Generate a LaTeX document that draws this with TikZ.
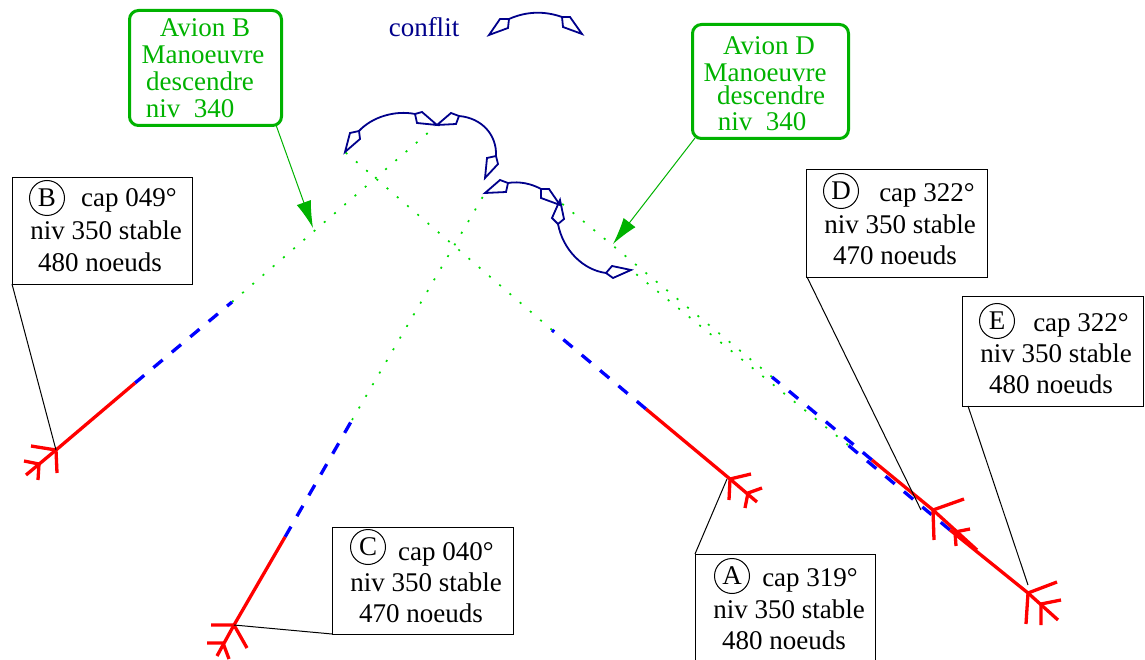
\documentclass[tikz,border=0pt]{standalone}
\usepackage{fontspec}
\setmainfont{Liberation Serif}
\usetikzlibrary{arrows.meta}
\definecolor{navyc}{RGB}{0,0,139}
\definecolor{greenc}{RGB}{0,178,0}
\definecolor{dotc}{RGB}{0,220,0}
\tikzset{
 x=1pt,y=-1pt,
 txt/.style={inner sep=0pt,font=\fontsize{27}{27}\selectfont,anchor=base},
 gtxt/.style={txt,text=greenc},
 infobox/.style={draw=black,line width=1pt,inner sep=0pt,anchor=north west},
 greenbox/.style={draw=greenc,line width=3pt,rounded corners=9pt,inner sep=0pt,anchor=north west},
 letter/.style={draw=black,circle,line width=1pt,inner sep=0pt,minimum size=35pt,font=\fontsize{27}{27}\selectfont},
 leader/.style={draw=black,line width=1pt},
 redline/.style={draw=red,line width=3.3pt},
 blueline/.style={draw=blue,line width=3.3pt,dash pattern=on 12pt off 12pt},
 dotline/.style={draw=dotc,line width=1.7pt,dash pattern=on 2pt off 11.5pt},
 confl/.style={draw=navyc,line width=1.8pt,line join=miter},
 garrow/.style={draw=greenc,line width=1pt,-{Latex[length=27pt,width=15pt]}},
}
\begin{document}
\begin{tikzpicture}
\useasboundingbox (0,0) rectangle (1145,660);
% ---- trajectories
\coordinate (bH) at (56,450);\coordinate (bR) at (135,383);\coordinate (bD) at (232,302);\coordinate (bE) at (437,125);
\coordinate (cH) at (234,625);\coordinate (cR) at (285,537);\coordinate (cD) at (352,420);\coordinate (cE) at (485,193);
\coordinate (aH) at (730,479);\coordinate (aR) at (646,409);\coordinate (aD) at (552,330);\coordinate (aE) at (345,152);
\coordinate (dH) at (933,510);\coordinate (dR) at (872,460);\coordinate (dD) at (772,377);\coordinate (dE) at (560,202);
\coordinate (eH) at (1028,593);\coordinate (eR) at (950,530);\coordinate (eD) at (848,445);\coordinate (eE) at (631,270);
\draw[dotline] (bD)--(bE); \draw[dotline] (cD)--(cE); \draw[dotline] (aD)--(aE); \draw[dotline] (dD)--(dE); \draw[dotline] (eD)--(eE);
\draw[blueline] (bR)--(bD); \draw[blueline] (cR)--(cD); \draw[blueline] (aR)--(aD); \draw[blueline] (dR)--(dD); \draw[blueline] (eR)--(eD);
\draw[redline] (bR)--(bH)--(26,475); \draw[redline] (31,446)--(bH)--(57,473); \draw[redline] (24,461)--(39,464)--(38,480);
\draw[redline] (cR)--(cH)--(217,656); \draw[redline] (211,625)--(cH)--(247,648); \draw[redline] (207,643)--(223,643)--(229,659);
\draw[redline] (aR)--(aH)--(757,502); \draw[redline] (751,474)--(aH)--(729,500); \draw[redline] (762,488)--(748,493)--(745,508);
\draw[redline] (dR)--(dH)--(977,550); \draw[redline] (964,499)--(dH)--(934,540); \draw[redline] (970,529)--(955,532)--(956,546);
\draw[redline] (eR)--(eH)--(1058,620); \draw[redline] (1057,582)--(eH)--(1026,624); \draw[redline] (1061,600)--(1041,604)--(1041,625);
% ---- info boxes
\node[infobox,minimum width=180pt,minimum height=107pt] (boxB) at (12,177) {};
\node[letter] (lB) at (47,198) {B};
\node[txt] (tB1) at (129,207) {cap 049°};
\node[txt] (tB2) at (106,240) {niv 350 stable};
\node[txt] (tB3) at (100,272) {480 noeuds};
\node[infobox,minimum width=181pt,minimum height=108pt] (boxD) at (806,169) {};
\node[letter] (lD) at (841,191) {D};
\node[txt] (tD1) at (927,202) {cap 322°};
\node[txt] (tD2) at (900,234) {niv 350 stable};
\node[txt] (tD3) at (895,265) {470 noeuds};
\node[infobox,minimum width=181pt,minimum height=110pt] (boxE) at (962,296) {};
\node[letter] (lE) at (997,321) {E};
\node[txt] (tE1) at (1081,331) {cap 322°};
\node[txt] (tE2) at (1056,362) {niv 350 stable};
\node[txt] (tE3) at (1051,393) {480 noeuds};
\node[infobox,minimum width=181pt,minimum height=107pt] (boxC) at (332,527) {};
\node[letter] (lC) at (368,547) {C};
\node[txt] (tC1) at (446,560) {cap 040°};
\node[txt] (tC2) at (426,591) {niv 350 stable};
\node[txt] (tC3) at (421,622) {470 noeuds};
\node[infobox,minimum width=180pt,minimum height=110pt] (boxA) at (695,554) {};
\node[letter] (lA) at (732,576) {A};
\node[txt] (tA1) at (810,586) {cap 319°};
\node[txt] (tA2) at (789,618) {niv 350 stable};
\node[txt] (tA3) at (784,649) {480 noeuds};
\coordinate (lbB) at (12,284); \coordinate (lbC) at (332,634); \coordinate (lbA) at (695,554); \coordinate (lbD) at (807,277); \coordinate (lbE) at (968,406);
\coordinate (ltD) at (921,510); \coordinate (ltE) at (1028,585); \coordinate (ltA) at (727,479);
\draw[leader] (lbB)--(bH); \draw[leader] (lbC)--(cH); \draw[leader] (lbA)--(ltA); \draw[leader] (lbD)--(ltD); \draw[leader] (lbE)--(ltE);
% ---- green boxes
\node[greenbox,minimum width=152pt,minimum height=115pt] (gB) at (128,9) {};
\node[gtxt] (gB1) at (205,37) {Avion B};
\node[gtxt] (gB2) at (203,64) {Manoeuvre};
\node[gtxt] (gB3) at (200,91) {descendre};
\node[gtxt] (gB4) at (190,118) {niv\ \ 340};
\node[greenbox,minimum width=156pt,minimum height=114pt] (gD) at (691,23) {};
\node[gtxt] (gD1) at (769,55) {Avion D};
\node[gtxt] (gD2) at (765,82) {Manoeuvre};
\node[gtxt] (gD3) at (771,105) {descendre};
\node[gtxt] (gD4) at (762,131) {niv\ \ 340};
\coordinate (gBs) at (276,125); \coordinate (gBe) at (313,228); \coordinate (gDs) at (695,138); \coordinate (gDe) at (613,244);
\draw[garrow] (gBs)--(gBe); \draw[garrow] (gDs)--(gDe);
% ---- conflict
\node[txt,text=navyc] (conf) at (424,37) {conflit};
\draw[confl] (489,35)--(500,19)--(509,19)--(508,28)--cycle;
\draw[confl] (562,17)--(570,17)--(582,34)--(563,27)--cycle;
\draw[confl] (509,19) .. controls (527,11) and (545,11) .. (562,17);
\draw[confl] (345,152)--(350,133)--(359,131)--(360,139)--cycle;
\draw[confl] (359,131) .. controls (372,117) and (395,110) .. (415,114);
\draw[confl] (415,114)--(422,112)--(437,125)--(417,123)--cycle;
\draw[confl] (437,125)--(451,113)--(459,116)--(456,124)--cycle;
\draw[confl] (459,116) .. controls (482,118) and (497,135) .. (496,156);
\draw[confl] (496,156)--(487,158)--(485,178)--(498,164)--cycle;
\draw[confl] (485,193)--(500,180)--(508,183)--(506,192)--cycle;
\draw[confl] (508,183) .. controls (520,181) and (532,184) .. (541,189);
\draw[confl] (541,189)--(549,189)--(560,205)--(541,198)--cycle;
\draw[confl] (560,200)--(564,219)--(558,224)--(552,218)--cycle;
\draw[confl] (558,224) .. controls (563,250) and (583,270) .. (606,273);
\draw[confl] (606,273)--(612,266)--(631,270)--(613,278)--cycle;
\end{tikzpicture}
\end{document}
